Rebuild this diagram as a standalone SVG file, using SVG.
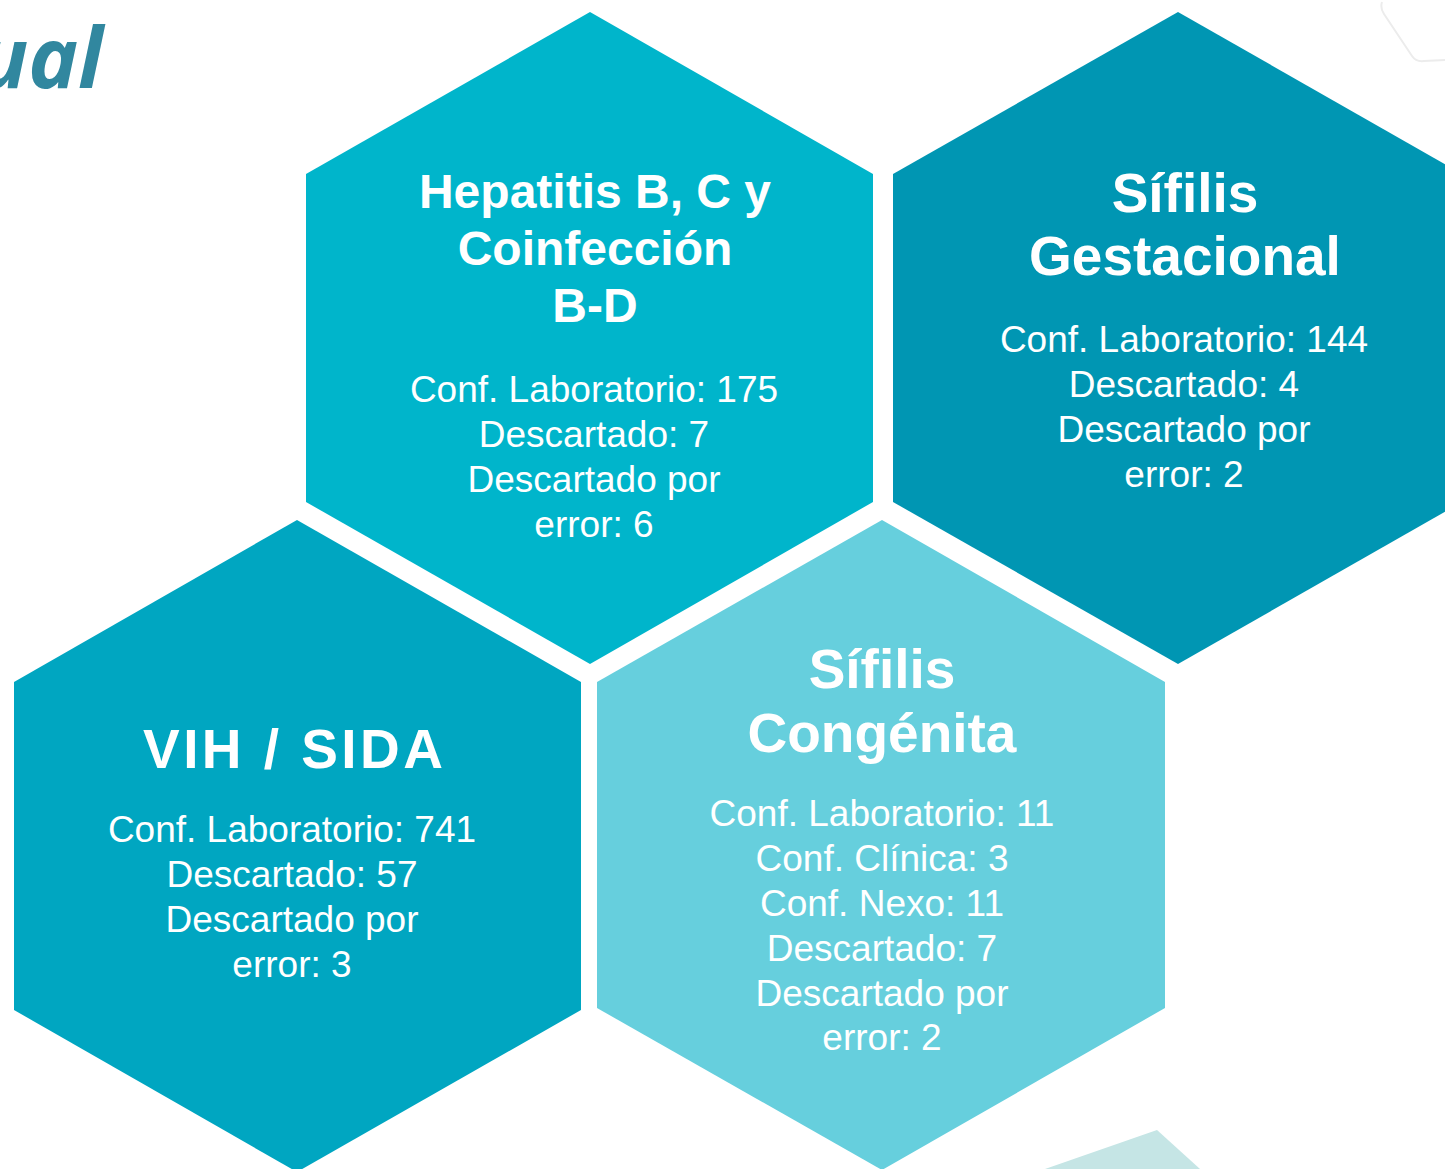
<svg xmlns="http://www.w3.org/2000/svg" width="1445" height="1169" viewBox="0 0 1445 1169">
<style>
.t{font-family:"Liberation Sans",Arial,sans-serif;font-weight:bold;fill:#fff;text-anchor:middle}
.b{font-family:"Liberation Sans",Arial,sans-serif;font-size:37px;fill:#fff;text-anchor:middle}
</style>
<rect width="1445" height="1169" fill="#fff"/>
<text x="103" y="88" font-family="'Open Sans',sans-serif" font-weight="bold" font-style="italic" font-size="84" fill="#31879F" text-anchor="end">ual</text>
<path d="M1382,2 Q1380,8 1384,14 L1412,56 Q1416,62 1424,61 L1445,60" fill="none" stroke="#ececec" stroke-width="2"/>
<path d="M1045,1169 L1157,1130 L1200,1169 Z" fill="#C5E5E5"/>
<g id="hepatitis">
<polygon points="590,12 873,174 873,502 590,664 306,502 306,174" fill="#00B5CB"/>
<text class="t" font-size="48"><tspan x="595" y="208">Hepatitis B, C y</tspan><tspan x="595" y="265">Coinfección</tspan><tspan x="595" y="322">B-D</tspan></text>
<text class="b"><tspan x="594" y="402">Conf. Laboratorio: 175</tspan><tspan x="594" y="447">Descartado: 7</tspan><tspan x="594" y="492">Descartado por</tspan><tspan x="594" y="537">error: 6</tspan></text>
</g>
<g id="gestacional">
<polygon points="1178,12 1462,174 1462,502 1178,664 893,502 893,174" fill="#0096B3"/>
<text class="t" font-size="55"><tspan x="1185" y="212">Sífilis</tspan><tspan x="1185" y="275">Gestacional</tspan></text>
<text class="b"><tspan x="1184" y="352">Conf. Laboratorio: 144</tspan><tspan x="1184" y="397">Descartado: 4</tspan><tspan x="1184" y="442">Descartado por</tspan><tspan x="1184" y="487">error: 2</tspan></text>
</g>
<g id="vih">
<polygon points="297,520 581,682 581,1010 297,1172 14,1010 14,682" fill="#00A6C1"/>
<text class="t" font-size="55" x="293" y="768" textLength="300" lengthAdjust="spacing">VIH / SIDA</text>
<text class="b"><tspan x="292" y="842">Conf. Laboratorio: 741</tspan><tspan x="292" y="887">Descartado: 57</tspan><tspan x="292" y="932">Descartado por</tspan><tspan x="292" y="977">error: 3</tspan></text>
</g>
<g id="congenita">
<polygon points="882,520 1165,682 1165,1008 882,1170 597,1008 597,682" fill="#66CFDD"/>
<text class="t" font-size="55"><tspan x="882" y="688">Sífilis</tspan><tspan x="882" y="752">Congénita</tspan></text>
<text class="b"><tspan x="882" y="826">Conf. Laboratorio: 11</tspan><tspan x="882" y="871">Conf. Clínica: 3</tspan><tspan x="882" y="916">Conf. Nexo: 11</tspan><tspan x="882" y="961">Descartado: 7</tspan><tspan x="882" y="1006">Descartado por</tspan><tspan x="882" y="1050">error: 2</tspan></text>
</g>
<g id="connectors"/>
</svg>
